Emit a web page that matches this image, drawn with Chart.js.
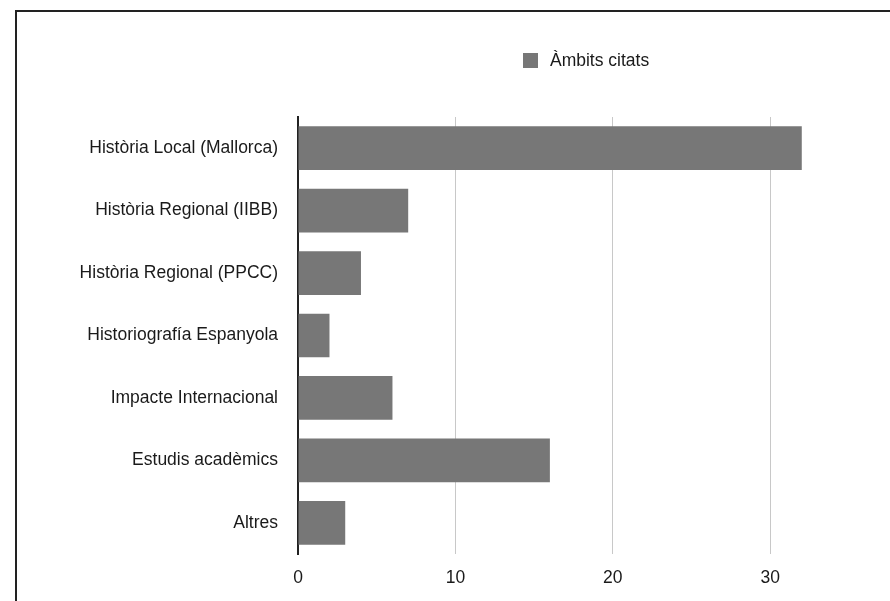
<!DOCTYPE html>
<html>
<head>
<meta charset="utf-8">
<script src="https://cdn.jsdelivr.net/npm/chart.js@4"></script>
<style>
  html, body { margin: 0; padding: 0; background: #fff; overflow: hidden; }
  #wrap { position: relative; width: 890px; height: 601px; }
  #frame { position: absolute; left: 15px; top: 10px; width: 890px; height: 601px;
    border-top: 2px solid #222; border-left: 2px solid #222; box-sizing: border-box; pointer-events: none; }
  canvas { position: absolute; left: 0; top: 0; }
</style>
</head>
<body>
<div id="wrap">
  <canvas id="chart" width="890" height="601"></canvas>
  <div id="frame"></div>
</div>
<script>
// dades del grafic
const categories = [
  'Història Local (Mallorca)',
  'Història Regional (IIBB)',
  'Història Regional (PPCC)',
  'Historiografía Espanyola',
  'Impacte Internacional',
  'Estudis acadèmics',
  'Altres'
];
const ambitsCitats = [32, 7, 4, 2, 6, 16, 3];
const xTicks = [0, 10, 20, 30];
const seriesName = 'Àmbits citats';

const FONT = 'Helvetica, Arial, "Liberation Sans", sans-serif';
const FONT_SIZE = 17.5;
const barColor = '#777777';

// llegenda dibuixada a ma (posicio com l'original)
const legendPlugin = {
  id: 'ownLegend',
  afterDraw(chart) {
    const ctx = chart.ctx;
    const x = chart.chartArea.left + 225;
    const y = 53;
    ctx.save();
    ctx.fillStyle = barColor;
    ctx.fillRect(x, y, 15, 15);
    ctx.fillStyle = '#1a1a1a';
    ctx.font = FONT_SIZE + 'px ' + FONT;
    ctx.textBaseline = 'middle';
    ctx.fillText(chart.data.datasets[0].label, x + 27, y + 8);
    ctx.restore();
  }
};

new Chart(document.getElementById('chart'), {
  type: 'bar',
  data: {
    labels: categories,
    datasets: [{
      label: seriesName,
      data: ambitsCitats,
      backgroundColor: barColor,
      barPercentage: 1,
      categoryPercentage: 0.7
    }]
  },
  options: {
    indexAxis: 'y',
    responsive: false,
    animation: false,
    layout: { padding: { top: 117, right: 41, bottom: 0, left: 0 } },
    plugins: {
      legend: { display: false },
      tooltip: { enabled: false }
    },
    scales: {
      x: {
        min: 0,
        max: 35,
        afterBuildTicks(scale) {
          scale.ticks = xTicks.map(v => ({ value: v }));
        },
        afterFit(scale) { scale.height = 47; },
        grid: {
          color: '#c8c8c8',
          lineWidth: 1,
          drawTicks: false
        },
        border: { display: false },
        ticks: {
          padding: 14,
          color: '#1a1a1a',
          font: { family: FONT, size: FONT_SIZE }
        }
      },
      y: {
        afterFit(scale) { scale.width = 298; },
        grid: { display: false, drawTicks: false },
        border: { display: true, color: '#222', width: 2 },
        ticks: {
          padding: 20,
          color: '#1a1a1a',
          font: { family: FONT, size: FONT_SIZE }
        }
      }
    }
  },
  plugins: [legendPlugin]
});
</script>
</body>
</html>
